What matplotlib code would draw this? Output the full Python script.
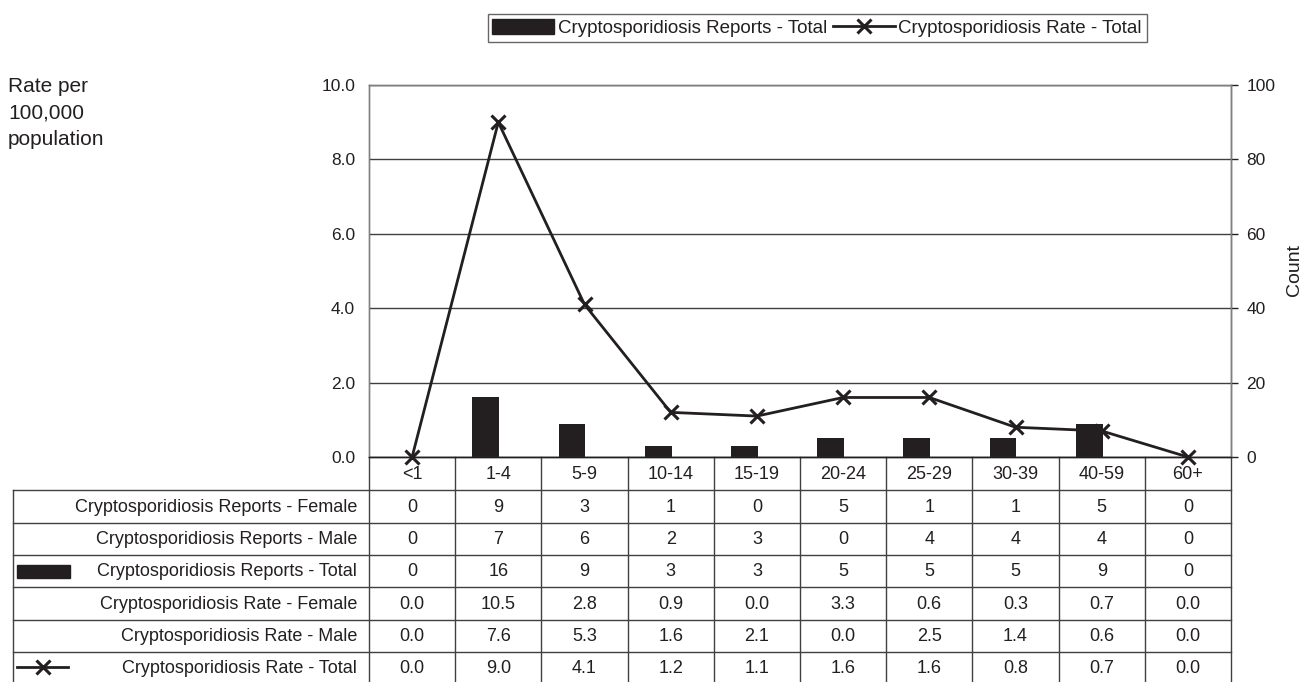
import matplotlib
matplotlib.use("Agg")
import matplotlib.pyplot as plt
from matplotlib.lines import Line2D
from matplotlib.patches import Rectangle
import numpy as np

plt.rcParams['font.family'] = ['Liberation Sans', 'DejaVu Sans']

categories = ["<1", "1-4", "5-9", "10-14", "15-19", "20-24", "25-29", "30-39", "40-59", "60+"]
reports_female = [0, 9, 3, 1, 0, 5, 1, 1, 5, 0]
reports_male = [0, 7, 6, 2, 3, 0, 4, 4, 4, 0]
reports_total = [0, 16, 9, 3, 3, 5, 5, 5, 9, 0]
rate_female = [0.0, 10.5, 2.8, 0.9, 0.0, 3.3, 0.6, 0.3, 0.7, 0.0]
rate_male = [0.0, 7.6, 5.3, 1.6, 2.1, 0.0, 2.5, 1.4, 0.6, 0.0]
rate_total = [0.0, 9.0, 4.1, 1.2, 1.1, 1.6, 1.6, 0.8, 0.7, 0.0]

row_labels = ["Cryptosporidiosis Reports - Female",
              "Cryptosporidiosis Reports - Male",
              "Cryptosporidiosis Reports - Total",
              "Cryptosporidiosis Rate - Female",
              "Cryptosporidiosis Rate - Male",
              "Cryptosporidiosis Rate - Total"]

DARK = '#231f20'
W, H = 1308, 682
fig = plt.figure(figsize=(W / 100, H / 100), dpi=100)

# pixel geometry
L, R, T, B = 369, 1231, 85, 457
ax = fig.add_axes([L / W, 1 - B / H, (R - L) / W, (B - T) / H])
ax2 = ax.twinx()

x = np.arange(len(categories))
ax2.bar(x - 0.145, reports_total, width=0.31, color=DARK, zorder=2)
ax.plot(x, rate_total, color=DARK, lw=2, marker='x', ms=10, mew=2.2, zorder=3, clip_on=False)

ax.set_zorder(ax2.get_zorder() + 1)
ax.patch.set_visible(False)

ax.set_xlim(-0.5, len(categories) - 0.5)
ax.set_ylim(0, 10)
ax2.set_ylim(0, 100)
ax.set_yticks(np.arange(0, 10.1, 2))
ax.set_yticklabels([f"{v:.1f}" for v in np.arange(0, 10.1, 2)])
ax2.set_yticks(np.arange(0, 101, 20))
ax.set_xticks([])
ax2.set_xticks([])
ax.grid(axis='y', color='#404040', lw=1)
ax.set_axisbelow(True)
ax.tick_params(axis='y', length=0, pad=10, labelsize=12.5, colors=DARK)
ax2.tick_params(axis='y', length=5, width=1, pad=6, labelsize=12.5, colors=DARK, direction='out')

for a in (ax, ax2):
    for s in a.spines.values():
        s.set_color('#808080')
        s.set_linewidth(1)
ax2.spines['right'].set_color('#404040')
ax.spines['bottom'].set_color(DARK)
ax2.spines['bottom'].set_color(DARK)

fig.text(1294 / W, 1 - 270 / H, "Count", fontsize=14, color=DARK, rotation=90,
         ha='center', va='center')

fig.text(8 / W, 1 - 77 / H, "Rate per\n100,000\npopulation", fontsize=15, color=DARK,
         va='top', ha='left', linespacing=1.5)

# table overlay in pixel coordinates
tax = fig.add_axes([0, 0, 1, 1])
tax.set_xlim(0, W)
tax.set_ylim(H, 0)
tax.axis('off')
tax.patch.set_visible(False)

FS = 13
ncat = len(categories)
cw = (R - L) / ncat
row_edges = [457, 490, 522.5, 555, 587, 619.5, 651.5, 684]
lc = '#404040'
# vertical lines
for i in range(ncat + 1):
    tax.plot([L + i * cw, L + i * cw], [row_edges[0], H], color=lc, lw=1)
tax.plot([13, 13], [row_edges[1], H], color=lc, lw=1)
# horizontal lines
for yv in row_edges[1:7]:
    tax.plot([13, R], [yv, yv], color=lc, lw=1)

# header row
for i, c in enumerate(categories):
    tax.text(L + (i + 0.5) * cw, (row_edges[0] + row_edges[1]) / 2 + 1, c,
             ha='center', va='center', fontsize=FS, color=DARK)

rows = [
    [str(v) for v in reports_female],
    [str(v) for v in reports_male],
    [str(v) for v in reports_total],
    [f"{v:.1f}" for v in rate_female],
    [f"{v:.1f}" for v in rate_male],
    [f"{v:.1f}" for v in rate_total],
]
for r, (lab, vals) in enumerate(zip(row_labels, rows)):
    yc = (row_edges[r + 1] + row_edges[r + 2]) / 2 + 1
    tax.text(357, yc, lab, ha='right', va='center', fontsize=FS, color=DARK)
    for i, v in enumerate(vals):
        tax.text(L + (i + 0.5) * cw, yc, v, ha='center', va='center', fontsize=FS, color=DARK)

# legend keys in table
yk = (row_edges[3] + row_edges[4]) / 2
tax.add_patch(Rectangle((17, yk - 6.5), 53, 13, color=DARK))
yk2 = (row_edges[6] + row_edges[7]) / 2 - 1
tax.plot([17, 68], [yk2, yk2], color=DARK, lw=2)
tax.plot([42.5], [yk2], marker='x', ms=10, mew=2.2, color=DARK)

# top legend
handles = [Rectangle((0, 0), 1, 1, color=DARK),
           Line2D([], [], color=DARK, lw=2, marker='x', ms=10, mew=2.2)]
leg = fig.legend(handles, ["Cryptosporidiosis Reports - Total", "Cryptosporidiosis Rate - Total"],
                 loc='center', bbox_to_anchor=(817 / W, 1 - 28 / H), ncol=2, fontsize=13.5,
                 frameon=True, fancybox=False, edgecolor='#404040', handlelength=3.3,
                 handleheight=0.8, columnspacing=0.3, handletextpad=0.2, borderpad=0.25,
                 borderaxespad=0)
leg.get_frame().set_linewidth(1)
for t in leg.get_texts():
    t.set_color(DARK)

fig.savefig("out.png", dpi=100)
